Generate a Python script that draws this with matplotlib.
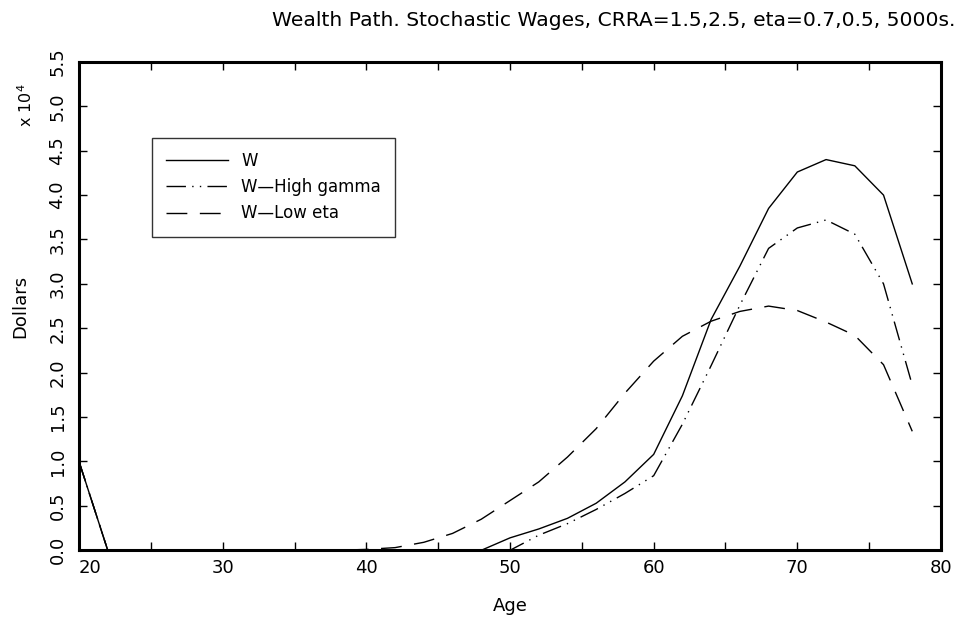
import matplotlib
matplotlib.use("Agg")
import matplotlib.pyplot as plt
import numpy as np

plt.rcParams['font.family'] = ['DejaVu Sans']

# Ages (every two years) and wealth paths in units of 10^4 dollars
ages = [20, 22, 24, 26, 28, 30, 32, 34, 36, 38, 40, 42, 44, 46, 48,
        50, 52, 54, 56, 58, 60, 62, 64, 66, 68, 70, 72, 74, 76, 78]

w_base = [1.0, 0.0, 0.0, 0.0, 0.0, 0.0, 0.0, 0.0, 0.0, 0.0, 0.0, 0.0, 0.0, 0.0, 0.0,
          0.14, 0.24, 0.36, 0.53, 0.77, 1.08, 1.74, 2.60, 3.20, 3.85, 4.26, 4.40, 4.33, 4.00, 3.00]

w_high_gamma = [1.0, 0.0, 0.0, 0.0, 0.0, 0.0, 0.0, 0.0, 0.0, 0.0, 0.0, 0.0, 0.0, 0.0, 0.0,
                0.0, 0.17, 0.30, 0.46, 0.64, 0.84, 1.42, 2.08, 2.76, 3.40, 3.63, 3.72, 3.56, 3.00, 1.86]

w_low_eta = [1.0, 0.0, 0.0, 0.0, 0.0, 0.0, 0.0, 0.0, 0.0, 0.0, 0.01, 0.03, 0.09, 0.19, 0.35,
             0.56, 0.77, 1.05, 1.37, 1.77, 2.13, 2.41, 2.58, 2.69, 2.75, 2.70, 2.57, 2.42, 2.09, 1.34]

series_labels = ["W", "W\u2014High gamma", "W\u2014Low eta"]

x_major = [20, 30, 40, 50, 60, 70, 80]
x_minor = [25, 35, 45, 55, 65, 75]
y_ticks = [0.0, 0.5, 1.0, 1.5, 2.0, 2.5, 3.0, 3.5, 4.0, 4.5, 5.0, 5.5]

fig = plt.figure(figsize=(9.6, 6.19), dpi=100)
ax = fig.add_axes([0.0823, 0.111, 0.8979, 0.789])

ax.plot(ages, w_base, color='black', lw=1.0, linestyle='-', label=series_labels[0])
ax.plot(ages, w_high_gamma, color='black', lw=1.0,
        linestyle=(0, (14, 4.5, 1, 4.5, 1, 4.5)), label=series_labels[1])
ax.plot(ages, w_low_eta, color='black', lw=1.0,
        linestyle=(0, (15, 9)), label=series_labels[2])

ax.set_xlim(20, 80)
ax.set_ylim(0, 5.5)

ax.set_xticks(x_major)
ax.set_xticks(x_minor, minor=True)
ax.set_yticks(y_ticks)
ax.set_xticklabels([str(v) for v in x_major])
ax.set_yticklabels([f"{v:.1f}" for v in y_ticks], rotation=90, va='center')

ax.tick_params(axis='both', which='both', direction='in', length=6, width=1,
               top=True, right=True, labelsize=13, colors='black', pad=6)
ax.tick_params(axis='y', pad=9)
first = ax.get_xticklabels()[0]
first.set_horizontalalignment('left')

for sp in ax.spines.values():
    sp.set_linewidth(2.2)

ax.set_xlabel("Age", fontsize=13, labelpad=15)
ax.set_ylabel("Dollars", fontsize=13, labelpad=14)
fig.text(0.027, 0.83, r"x 10$^4$", rotation=90, fontsize=11.5, ha='center', va='center')

fig.text(0.995, 0.967, "Wealth Path. Stochastic Wages, CRRA=1.5,2.5, eta=0.7,0.5, 5000s.",
         fontsize=14.6, ha='right', va='center')

leg = ax.legend(loc='upper left', bbox_to_anchor=(0.0845, 0.845), fontsize=12,
                frameon=True, fancybox=False, edgecolor='black', handlelength=3.7,
                handletextpad=0.8, borderpad=0.85, labelspacing=0.5, borderaxespad=0)
leg.get_frame().set_linewidth(1.0)
leg.get_frame().set_facecolor('white')

fig.canvas.draw()
# widen the legend frame to a fixed pixel width
bb = leg.get_frame().get_window_extent()
target_w = 244
frame = leg.get_frame()
frame.set_width(frame.get_width() + (target_w - bb.width))

fig.savefig("out.png", dpi=100)
